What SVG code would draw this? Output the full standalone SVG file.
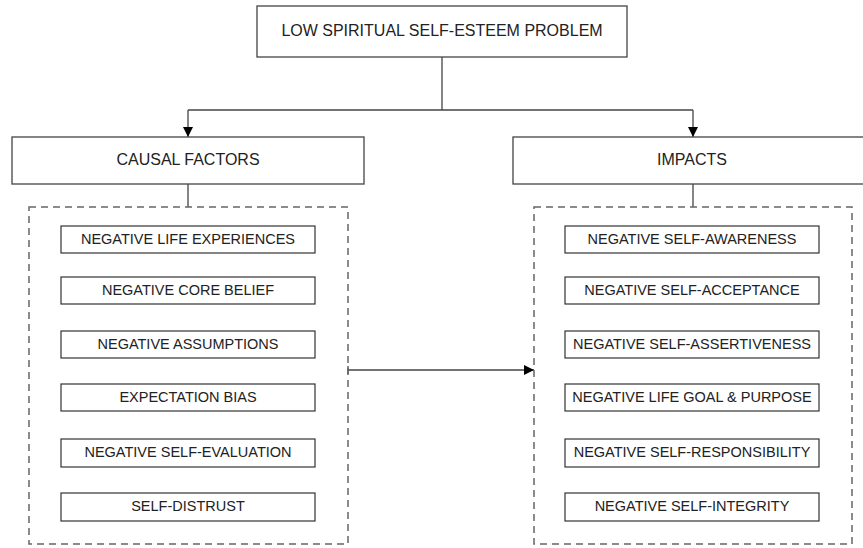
<svg xmlns="http://www.w3.org/2000/svg" width="863" height="548" viewBox="0 0 863 548">
<style>
.box{fill:#fff;stroke:#444;stroke-width:1.3}
.item{fill:#fff;stroke:#333;stroke-width:1.2}
.group{fill:none;stroke:#666;stroke-width:1.5;stroke-dasharray:7 5}
.head{font-family:"Liberation Sans",Arial,sans-serif;font-size:16px;fill:#222;text-anchor:middle;dominant-baseline:central}
.lbl{font-family:"Liberation Sans",Arial,sans-serif;font-size:14.5px;fill:#222;text-anchor:middle;dominant-baseline:central}
.conn{fill:none;stroke:#444;stroke-width:1.3}
</style>
<defs>
<marker id="arr" viewBox="0 0 10 10" refX="10" refY="5" markerWidth="10" markerHeight="10" markerUnits="userSpaceOnUse" orient="auto">
<path d="M0,0 L10,5 L0,10 z" fill="#000"/>
</marker>
</defs>
<rect width="863" height="548" fill="#fff"/>
<g id="connectors">
<path class="conn" d="M442,57 V110"/>
<path class="conn" d="M188,110 H693"/>
<path class="conn" d="M188,110 V137" marker-end="url(#arr)"/>
<path class="conn" d="M693,110 V137" marker-end="url(#arr)"/>
<path class="conn" d="M188,184 V207"/>
<path class="conn" d="M693,184 V207"/>
<path class="conn" d="M348,370 H534" marker-end="url(#arr)"/>
<path class="conn" d="M348,366 V374"/>
</g>
<g id="problem">
<rect class="box" x="257" y="6" width="370" height="51"/>
<text class="head" x="442" y="30.5">LOW SPIRITUAL SELF-ESTEEM PROBLEM</text>
</g>
<g id="causal-factors">
<rect class="box" x="12" y="137" width="352" height="47"/>
<text class="head" x="188" y="159.5">CAUSAL FACTORS</text>
</g>
<g id="impacts">
<rect class="box" x="513" y="137" width="360" height="47"/>
<text class="head" x="692" y="159.5">IMPACTS</text>
</g>
<g id="causal-group">
<rect class="group" x="29" y="207" width="319" height="337"/>
</g>
<g id="impacts-group">
<rect class="group" x="534" y="207" width="318" height="337"/>
</g>
<g id="c1"><rect class="item" x="61" y="226" width="254" height="27"/><text class="lbl" x="188" y="238.5">NEGATIVE LIFE EXPERIENCES</text></g>
<g id="c2"><rect class="item" x="61" y="277" width="254" height="27"/><text class="lbl" x="188" y="289.5">NEGATIVE CORE BELIEF</text></g>
<g id="c3"><rect class="item" x="61" y="331" width="254" height="27"/><text class="lbl" x="188" y="343.5">NEGATIVE ASSUMPTIONS</text></g>
<g id="c4"><rect class="item" x="61" y="384" width="254" height="27"/><text class="lbl" x="188" y="396.5">EXPECTATION BIAS</text></g>
<g id="c5"><rect class="item" x="61" y="439" width="254" height="28"/><text class="lbl" x="188" y="452">NEGATIVE SELF-EVALUATION</text></g>
<g id="c6"><rect class="item" x="61" y="493" width="254" height="28"/><text class="lbl" x="188" y="506">SELF-DISTRUST</text></g>
<g id="i1"><rect class="item" x="565" y="226" width="254" height="27"/><text class="lbl" x="692" y="238.5">NEGATIVE SELF-AWARENESS</text></g>
<g id="i2"><rect class="item" x="565" y="277" width="254" height="27"/><text class="lbl" x="692" y="289.5">NEGATIVE SELF-ACCEPTANCE</text></g>
<g id="i3"><rect class="item" x="565" y="331" width="254" height="27"/><text class="lbl" x="692" y="343.5">NEGATIVE SELF-ASSERTIVENESS</text></g>
<g id="i4"><rect class="item" x="565" y="384" width="254" height="27"/><text class="lbl" x="692" y="396.5">NEGATIVE LIFE GOAL &amp; PURPOSE</text></g>
<g id="i5"><rect class="item" x="565" y="439" width="254" height="28"/><text class="lbl" x="692" y="452">NEGATIVE SELF-RESPONSIBILITY</text></g>
<g id="i6"><rect class="item" x="565" y="493" width="254" height="28"/><text class="lbl" x="692" y="506">NEGATIVE SELF-INTEGRITY</text></g>
</svg>
